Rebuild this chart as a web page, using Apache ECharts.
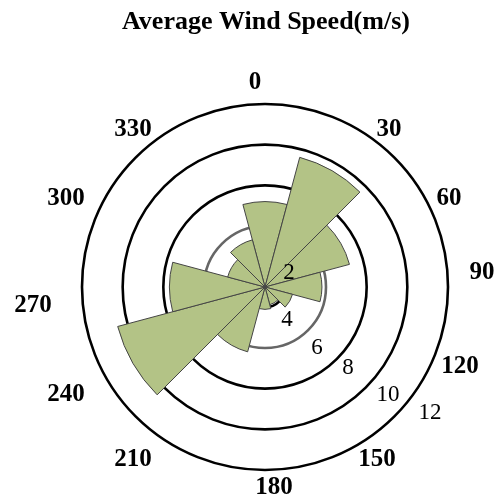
<!DOCTYPE html>
<html>
<head>
<meta charset="utf-8">
<script src="https://cdn.jsdelivr.net/npm/echarts@6/dist/echarts.min.js"></script>
<style>
  html, body { margin: 0; padding: 0; background: #ffffff; }
  #chart { width: 499px; height: 502px; }
</style>
</head>
<body>
<div id="chart"></div>
<script>
// ---- data ----
const directions = ['0', '30', '60', '90', '120', '150', '180', '210', '240', '270', '300', '330'];
const speeds = [7.2, 9.6, 7.3, 5.8, 4.4, 3.9, 4.1, 6.3, 10.5, 7.7, 4.9, 5.4];
const radialTickLabels = ['2', '4', '6', '8', '10', '12'];
const titleText = 'Average Wind Speed(m/s)';

// ---- layout (positions of hand-placed labels, in px) ----
const angleLabelPos = [
  [255, 83], [389, 130], [449, 199], [482, 273], [460, 367], [377, 460],
  [274, 488], [133, 460], [66, 395], [33, 306], [66, 199], [133, 130]
];
const radialLabelPos = [[289, 273], [287, 320], [317, 348], [348, 368], [388, 395], [430, 413]];

const serif = "'Liberation Serif', 'Times New Roman', serif";

const graphics = [];
directions.forEach(function (d, i) {
  graphics.push({
    type: 'text', x: angleLabelPos[i][0], y: angleLabelPos[i][1], z: 100,
    style: { text: d, fill: '#000', font: 'bold 25px ' + serif, align: 'center', verticalAlign: 'middle' }
  });
});
radialTickLabels.forEach(function (t, i) {
  graphics.push({
    type: 'text', x: radialLabelPos[i][0], y: radialLabelPos[i][1], z: 100,
    style: { text: t, fill: '#000', font: '23px ' + serif, align: 'center', verticalAlign: 'middle' }
  });
});

const chart = echarts.init(document.getElementById('chart'), null, { renderer: 'canvas' });
chart.setOption({
  backgroundColor: '#ffffff',
  animation: false,
  title: {
    text: titleText,
    left: 117,
    top: 4,
    textStyle: { fontFamily: serif, fontWeight: 'bold', fontSize: 26, color: '#000' }
  },
  polar: { center: [265, 287], radius: 183 },
  angleAxis: {
    type: 'category',
    data: directions,
    startAngle: 105,
    clockwise: true,
    axisLine: { show: false },
    axisTick: { show: false },
    axisLabel: { show: false },
    splitLine: { show: false }
  },
  radiusAxis: {
    type: 'value',
    min: 3,
    max: 12,
    axisLine: { show: false },
    axisTick: { show: false },
    axisLabel: { show: false },
    splitLine: {
      show: true,
      lineStyle: { color: ['#000', '#000', '#666', '#000', '#000', '#000'], width: 2.6 }
    }
  },
  series: [{
    type: 'bar',
    coordinateSystem: 'polar',
    data: speeds,
    barCategoryGap: '0%',
    clip: true,
    itemStyle: { color: '#b3c386', borderColor: '#454545', borderWidth: 1 }
  }],
  graphic: graphics
});
</script>
</body>
</html>
